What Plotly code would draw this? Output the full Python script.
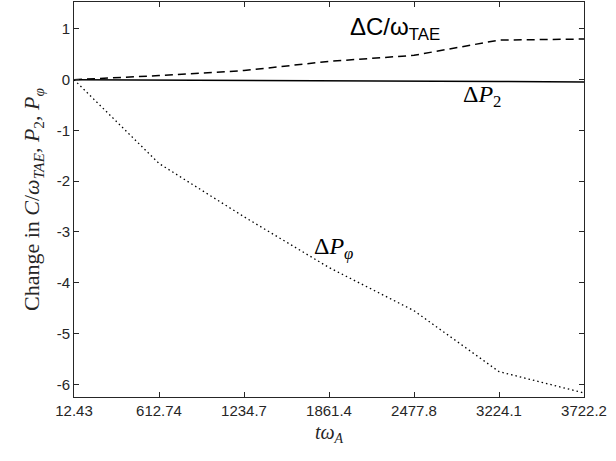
import plotly.graph_objects as go

# Data (x positions are sample indices labelled with tω_A values)
tick_labels = ["12.43", "612.74", "1234.7", "1861.4", "2477.8", "3224.1", "3722.2"]
x_idx = [0, 1, 2, 3, 4, 5, 6]
delta_C = [0.0, 0.08, 0.18, 0.36, 0.48, 0.78, 0.80]
delta_P2 = [0.0, -0.005, -0.012, -0.02, -0.028, -0.036, -0.045]
delta_Pphi = [0.0, -1.65, -2.70, -3.70, -4.55, -5.75, -6.17]

fig = go.Figure()
fig.add_trace(go.Scatter(x=x_idx, y=delta_C, mode="lines",
                         line=dict(color="black", width=1.5, dash="8px,5px"), showlegend=False))
fig.add_trace(go.Scatter(x=x_idx, y=delta_P2, mode="lines",
                         line=dict(color="black", width=1.6), showlegend=False))
fig.add_trace(go.Scatter(x=x_idx, y=delta_Pphi, mode="lines",
                         line=dict(color="black", width=1.3, dash="1.5px,3px"), showlegend=False))

axis_common = dict(showline=True, linecolor="#262626", linewidth=1, mirror="ticks",
                   ticks="inside", ticklen=5, tickcolor="#262626", showgrid=False,
                   zeroline=False, tickfont=dict(family="Liberation Sans, Arial", size=15, color="#262626"))

fig.update_xaxes(range=[0, 6], tickvals=x_idx, ticktext=tick_labels,
                 title=dict(text="<i>tω</i><sub><i>A</i></sub>",
                            font=dict(family="Liberation Serif, DejaVu Serif", size=20, color="#262626"),
                            standoff=6),
                 **axis_common)
fig.update_yaxes(range=[-6.25, 1.53], tickvals=[-6, -5, -4, -3, -2, -1, 0, 1],
                 ticktext=["-6", "-5", "-4", "-3", "-2", "-1", "0", "1"],
                 title=dict(text="Change in <i>C</i>/<i>ω</i><sub><i>TAE</i></sub>, <i>P</i><sub>2</sub>, <i>P</i><sub><i>φ</i></sub>",
                            font=dict(family="Liberation Serif, DejaVu Serif", size=22, color="#262626"),
                            standoff=10),
                 **axis_common)

fig.add_annotation(x=3.22, y=1.0, xref="x", yref="y", xanchor="left", yanchor="middle",
                   text="ΔC/ω<sub>TAE</sub>", showarrow=False,
                   font=dict(family="Liberation Sans, Arial", size=24, color="black"))
fig.add_annotation(x=4.55, y=-0.33, xref="x", yref="y", xanchor="left", yanchor="middle",
                   text="Δ<i>P</i><sub>2</sub>", showarrow=False,
                   font=dict(family="Liberation Serif, DejaVu Serif", size=24, color="black"))
fig.add_annotation(x=2.8, y=-3.32, xref="x", yref="y", xanchor="left", yanchor="middle",
                   text="Δ<i>P</i><sub><i>φ</i></sub>", showarrow=False,
                   font=dict(family="Liberation Serif, DejaVu Serif", size=24, color="black"))

fig.update_layout(width=616, height=461, plot_bgcolor="white", paper_bgcolor="white",
                  margin=dict(l=74, r=32, t=2, b=64))

fig.write_html("out.html", config={"displayModeBar": False},
               post_script="document.body.style.margin='0';document.body.style.overflow='hidden';")
